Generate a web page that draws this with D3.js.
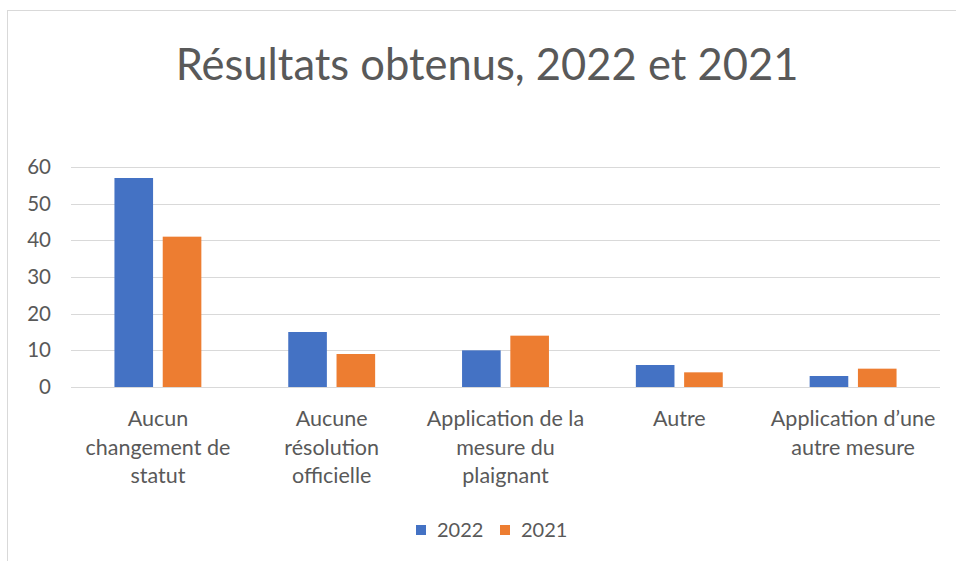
<!DOCTYPE html>
<html>
<head>
<meta charset="utf-8">
<script src="https://cdn.jsdelivr.net/npm/d3@7"></script>
<style>
  body { margin: 0; background: #fff; }
  svg { display: block; font-family: Lato, "Open Sans", sans-serif; }
</style>
</head>
<body>
<svg id="chart"></svg>
<script>
// data
const categories = [
  'Aucun\nchangement de\nstatut',
  'Aucune\nrésolution\nofficielle',
  'Application de la\nmesure du\nplaignant',
  'Autre',
  'Application d\u2019une\nautre mesure'
];
const series = ['2022', '2021'];
const values2022 = [57, 15, 10, 6, 3];
const values2021 = [41, 9, 14, 4, 5];
const yTicks = [0, 10, 20, 30, 40, 50, 60];
const colors = ['#4472C4', '#ED7D31'];

var width = 956;
var height = 561;
var textColor = '#595959';

var svg = d3.select('#chart').attr('width', width).attr('height', height);

// chart frame
svg.append('rect')
  .attr('x', 7.5).attr('y', 10.5)
  .attr('width', width).attr('height', height)
  .attr('fill', '#fff')
  .attr('stroke', '#d9d9d9');

svg.append('text')
  .attr('x', 487).attr('y', 80)
  .attr('text-anchor', 'middle')
  .style('font-size', '43.5px')
  .style('fill', textColor)
  .text('Résultats obtenus, 2022 et 2021');

var x0 = d3.scaleBand()
  .domain(categories)
  .range([71, 940])
  .paddingInner(0.5)
  .paddingOuter(0.25);

var x1 = d3.scaleBand()
  .domain(series)
  .range([0, x0.bandwidth()])
  .paddingInner(0.2);

var y = d3.scaleLinear().domain([0, 60]).range([387, 167]);

// gridlines
svg.append('g')
  .selectAll('line')
  .data(yTicks)
  .enter()
  .append('line')
  .attr('x1', 71).attr('x2', 940)
  .attr('y1', function (d) { return Math.round(y(d)) + 0.5; })
  .attr('y2', function (d) { return Math.round(y(d)) + 0.5; })
  .attr('stroke', '#d9d9d9')
  .attr('stroke-width', 1);

// y axis labels
var yAxis = svg.append('g')
  .attr('transform', 'translate(51,0)')
  .call(d3.axisLeft(y).tickValues(yTicks).tickSize(0).tickPadding(0));
yAxis.select('.domain').remove();
yAxis.selectAll('text')
  .style('font-size', '20.5px')
  .style('font-family', 'Lato, "Open Sans", sans-serif')
  .attr('fill', textColor);

// bars
var rows = categories.map(function (c, i) {
  return { cat: c, vals: [values2022[i], values2021[i]] };
});

var group = svg.append('g')
  .selectAll('g')
  .data(rows)
  .enter()
  .append('g')
  .attr('transform', function (d) { return 'translate(' + x0(d.cat) + ',0)'; });

group.selectAll('rect')
  .data(function (d) {
    return d.vals.map(function (v, j) { return { key: series[j], value: v, color: colors[j] }; });
  })
  .enter()
  .append('rect')
  .attr('x', function (d) { return x1(d.key); })
  .attr('width', x1.bandwidth())
  .attr('y', function (d) { return y(d.value); })
  .attr('height', function (d) { return y(0) - y(d.value); })
  .attr('fill', function (d) { return d.color; });

// category labels
var xLabels = svg.append('g')
  .selectAll('text')
  .data(categories)
  .enter()
  .append('text')
  .attr('text-anchor', 'middle')
  .attr('x', function (d) { return x0(d) + x0.bandwidth() / 2; })
  .attr('y', 426)
  .style('font-size', '21.5px')
  .style('fill', textColor);

xLabels.each(function (d) {
  var t = d3.select(this);
  d.split('\n').forEach(function (line, i) {
    t.append('tspan')
      .attr('x', x0(d) + x0.bandwidth() / 2)
      .attr('dy', i === 0 ? 0 : 28.5)
      .text(line);
  });
});

// legend
var legendX = [416, 500];
var legend = svg.append('g')
  .selectAll('g')
  .data(series)
  .enter()
  .append('g')
  .attr('transform', function (d, i) { return 'translate(' + legendX[i] + ',525)'; });

legend.append('rect')
  .attr('width', 10).attr('height', 10)
  .attr('fill', function (d, i) { return colors[i]; });

legend.append('text')
  .attr('x', 21).attr('y', 12)
  .style('font-size', '20px')
  .style('fill', textColor)
  .text(function (d) { return d; });
</script>
</body>
</html>
